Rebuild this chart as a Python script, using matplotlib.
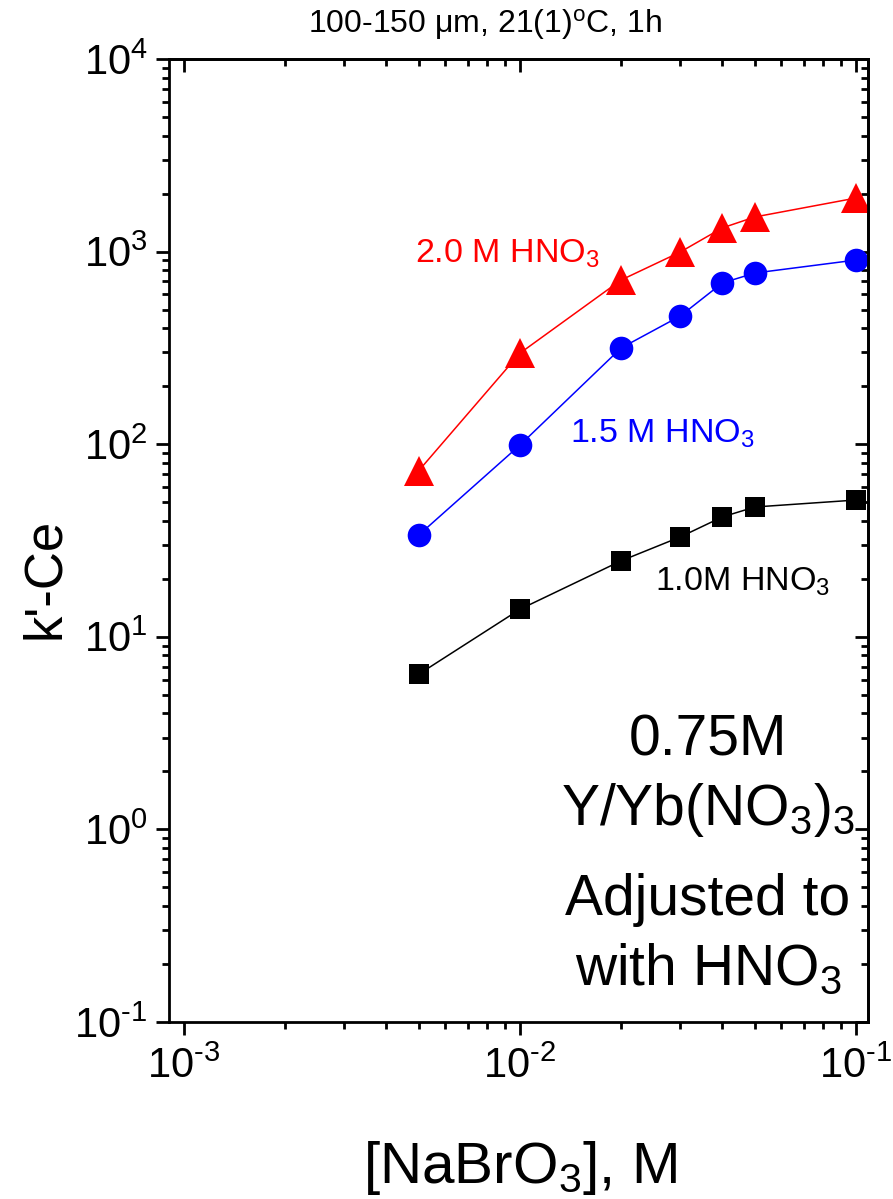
import numpy as np
import matplotlib
matplotlib.use('Agg')
import matplotlib.pyplot as plt
from matplotlib.ticker import LogLocator, NullFormatter, FuncFormatter

plt.rcParams['font.family'] = ['Liberation Sans', 'DejaVu Sans']
plt.rcParams['mathtext.fontset'] = 'custom'
plt.rcParams['mathtext.rm'] = 'Liberation Sans'
plt.rcParams['mathtext.it'] = 'Liberation Sans:italic'
plt.rcParams['mathtext.default'] = 'regular'

# [NaBrO3], M
nabro3 = [0.005, 0.01, 0.02, 0.03, 0.04, 0.05, 0.1]

# k'-Ce at each acidity
k_10 = [6.4, 13.9, 24.8, 33.0, 41.9, 47.2, 51.3]
k_15 = [33.8, 99.0, 316, 463, 687, 774, 904]
k_20 = [73, 297, 712, 995, 1327, 1513, 1897]


def pow10(v, pos):
    e = int(round(np.log10(v)))
    if e < 0:
        return r'$10^{\text{-}%d}$' % (-e)
    return r'$10^{%d}$' % e


fig = plt.figure(figsize=(8.93, 11.99), dpi=100)
ax = fig.add_axes([169/893, 1 - 1022/1199, 699/893, 963/1199])

ax.plot(nabro3, k_10, '-s', color='black', lw=1.1, ms=15, mew=0)
ax.plot(nabro3, k_15, '-o', color='blue', lw=1.1, ms=17, mew=0)
ax.plot(nabro3, k_20, '-^', color='red', lw=1.1, ms=21, mew=0)

ax.set_xscale('log')
ax.set_yscale('log')
ax.set_xlim(9.02e-4, 0.1086)
ax.set_ylim(0.1, 1e4)

for a in (ax.xaxis, ax.yaxis):
    a.set_major_locator(LogLocator(base=10))
    a.set_minor_locator(LogLocator(base=10, subs=np.arange(2, 10)))
    a.set_major_formatter(FuncFormatter(pow10))
    a.set_minor_formatter(NullFormatter())

for s in ax.spines.values():
    s.set_linewidth(2)

ax.tick_params(which='major', direction='out', length=9.5, width=2,
               labelsize=30)
ax.tick_params(axis='x', which='major', pad=8)
ax.tick_params(axis='y', which='major', pad=6)
ax.tick_params(which='minor', direction='out', length=5, width=2)

# inward ticks on top and right
top = ax.secondary_xaxis('top')
right = ax.secondary_yaxis('right')
for sec, axis in ((top, top.xaxis), (right, right.yaxis)):
    axis.set_major_locator(LogLocator(base=10))
    axis.set_minor_locator(LogLocator(base=10, subs=np.arange(2, 10)))
    axis.set_major_formatter(NullFormatter())
    axis.set_minor_formatter(NullFormatter())
    sec.tick_params(which='major', direction='in', length=9.5, width=2)
    sec.tick_params(which='minor', direction='in', length=5, width=2)
    for s in sec.spines.values():
        s.set_linewidth(2)

fig.text(520/893, 1 - 1183/1199, r'[NaBrO$_3$], M', fontsize=42,
         ha='center', va='baseline')
fig.text(45/893, 1 - 578/1199, "k'-Ce", fontsize=38, rotation=90,
         ha='center', va='center')
fig.text(485/893, 1 - 33/1199, r'100-150 $\mu$m, 21(1)$^{o}$C, 1h',
         fontsize=23, ha='center', va='baseline')

ax.text(0.352, 0.789, r'2.0 M HNO$_3$', color='red', fontsize=24.5,
        transform=ax.transAxes, va='baseline')
ax.text(0.574, 0.602, r'1.5 M HNO$_3$', color='blue', fontsize=24.5,
        transform=ax.transAxes, va='baseline')
ax.text(0.695, 0.448, r'1.0M HNO$_3$', color='black', fontsize=24.5,
        transform=ax.transAxes, va='baseline')

block = ['0.75M', r'Y/Yb(NO$_3$)$_3$', 'Adjusted to', r'with HNO$_3$']
ys = [0.277, 0.2046, 0.111, 0.0384]
for line, y in zip(block, ys):
    ax.text(0.771, y, line, fontsize=41, ha='center', va='baseline',
            transform=ax.transAxes)

fig.savefig('out.png', dpi=100)
